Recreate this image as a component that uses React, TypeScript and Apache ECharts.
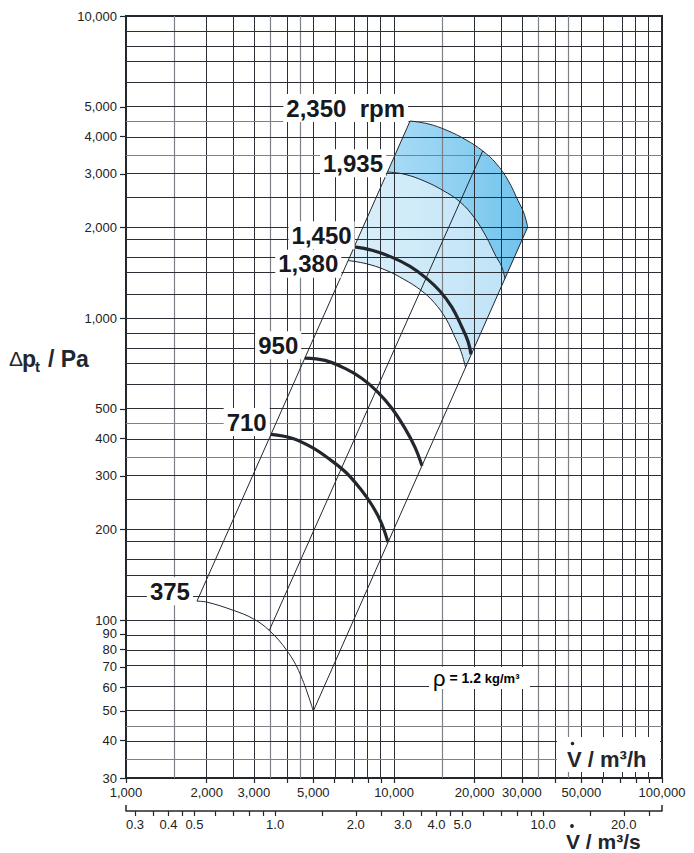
import React, { useEffect, useRef } from 'react';
import * as echarts from 'echarts';

const FONT = '"Liberation Sans", Arial, Helvetica, sans-serif';
const INK = '#22262d';
const GRID_DARK = '#2c2f36';
const GRID_LIGHT = '#7e8188';

// Axis extents: volume flow in m³/h, total pressure in Pa (both logarithmic)
const FLOW_MIN = 1000;
const FLOW_MAX = 100000;
const PRESS_MIN = 30;
const PRESS_MAX = 10000;

const flowLabels = [1000, 2000, 3000, 5000, 10000, 20000, 30000, 50000, 100000];
const flowTicks = [1000, 2000, 3000, 4000, 5000, 6000, 7000, 8000, 9000, 10000, 20000, 30000, 40000, 50000, 60000, 70000, 80000, 90000, 100000];
const flowGridDark = [2000, 2500, 3000, 4000, 5000, 6000, 7000, 8000, 9000, 10000, 20000, 25000, 30000, 40000, 50000, 60000, 70000, 80000, 90000];
const flowGridLight = [1500, 3500, 4500, 15000, 35000, 45000];

const pressLabels = [30, 40, 50, 60, 70, 80, 90, 100, 200, 300, 400, 500, 1000, 2000, 3000, 4000, 5000, 10000];
const pressGridDark = [40, 50, 60, 70, 80, 90, 100, 120, 140, 160, 180, 200, 250, 300, 400, 500, 600, 700, 800, 900, 1000, 1200, 1400, 1600, 1800, 2000, 2500, 3000, 4000, 5000, 6000, 7000, 8000, 9000];
const pressGridLight = [35, 45, 350, 450, 3500, 4500];

// Secondary flow scale in m³/s
const flowSecTicks = [0.3, 0.35, 0.4, 0.45, 0.5, 0.6, 0.7, 0.8, 0.9, 1, 1.5, 2, 2.5, 3, 3.5, 4, 4.5, 5, 6, 7, 8, 9, 10, 15, 20, 25];
const flowSecLabels = [0.3, 0.4, 0.5, 1, 2, 3, 4, 5, 10, 20];

// Fan characteristics (m³/h, Pa)
const rpm2350Flow = [11480, 13400, 15770, 18570, 21430, 24020, 26630, 29010, 30560, 31540];
const rpm2350Press = [4490, 4395, 4180, 3890, 3575, 3255, 2860, 2450, 2220, 2000];

const rpm1935Flow = [9460, 10990, 13050, 15230, 17630, 19890, 22040, 24020, 25190, 25950];
const rpm1935Press = [3045, 2990, 2835, 2645, 2425, 2155, 1865, 1600, 1485, 1350];

const rpm1450Flow = [7100, 8280, 9745, 11480, 13230, 14850, 16460, 17930, 18890, 19380];
const rpm1450Press = [1720, 1676, 1594, 1483, 1353, 1226, 1085, 932, 837, 758];

const rpm1380Flow = [6740, 7860, 9260, 10900, 12610, 14100, 15630, 16890, 17780, 18500];
const rpm1380Press = [1550, 1514, 1444, 1343, 1235, 1127, 994, 863, 776, 685];

const rpm950Flow = [4650, 5527, 6565, 7597, 8642, 9830, 10990, 11980, 12720];
const rpm950Press = [737, 724, 681, 631, 572, 502, 431, 373, 324];

const rpm710Flow = [3475, 4164, 4943, 5770, 6622, 7467, 8278, 8943, 9500];
const rpm710Press = [412, 400, 373, 340, 308, 273, 240, 211, 181];

const rpm375Flow = [1840, 2000, 2514, 2985, 3424, 3978, 4461, 5000];
const rpm375Press = [115.5, 114.7, 107.7, 101, 92.4, 79.4, 66.4, 50];

// System resistance lines (Δp ∝ V̇²)
const sysAFlow = [1840, 11480];
const sysAPress = [115.5, 4490];
const sysBFlow = [3424, 21430];
const sysBPress = [92.4, 3575];
const sysCFlow = [5000, 31540];
const sysCPress = [50, 2000];

const rpmLabelText = ['2,350  rpm', '1,935', '1,450', '1,380', '950', '710', '375'];

const lg = (v: number) => Math.log10(v);
const pts = (q: number[], p: number[]) => q.map((v, i) => [lg(v), lg(p[i])]);
const withCommas = (n: number) => String(n).replace(/\B(?=(\d{3})+(?!\d))/g, ',');
const fmtPow = (v: number) => withCommas(Math.round(Math.pow(10, v)));

function buildOption() {
  const curves = [
    { q: rpm2350Flow, p: rpm2350Press, bold: false },
    { q: rpm1935Flow, p: rpm1935Press, bold: false },
    { q: rpm1450Flow, p: rpm1450Press, bold: true },
    { q: rpm1380Flow, p: rpm1380Press, bold: false },
    { q: rpm950Flow, p: rpm950Press, bold: true },
    { q: rpm710Flow, p: rpm710Press, bold: true },
    { q: rpm375Flow, p: rpm375Press, bold: false },
  ];
  const systems = [
    { q: sysAFlow, p: sysAPress },
    { q: sysBFlow, p: sysBPress },
    { q: sysCFlow, p: sysCPress },
  ];
  // label offsets relative to each curve's starting point
  const labelOffsets = [[0.5, -13], [1, -8.7], [3, -11.6], [-4.3, 3.3], [-1.1, -12.7], [1.2, -12.3], [-1.5, -9.8]];

  const darkFill = new echarts.graphic.LinearGradient(0, 0, 1, 0, [
    { offset: 0, color: '#aadbf5' },
    { offset: 0.55, color: '#8ccff1' },
    { offset: 1, color: '#6fc2ec' },
  ]);
  const lightFill = new echarts.graphic.LinearGradient(0, 0, 1, 0, [
    { offset: 0, color: '#dbf0fa' },
    { offset: 1, color: '#c0e3f7' },
  ]);
  const bands = [
    { poly: [...pts(rpm2350Flow, rpm2350Press), ...pts(rpm1935Flow, rpm1935Press).reverse()], fill: darkFill },
    { poly: [...pts(rpm1935Flow, rpm1935Press), ...pts(rpm1380Flow, rpm1380Press).reverse()], fill: lightFill },
  ];

  const lineBase = {
    type: 'line',
    showSymbol: false,
    symbol: 'none',
    silent: true,
    animation: false,
    emphasis: { disabled: true },
  };

  const series: any[] = [
    {
      type: 'custom',
      coordinateSystem: 'cartesian2d',
      silent: true,
      z: 1,
      data: bands.map((b, i) => [b.poly[0][0], b.poly[0][1], i]),
      encode: { x: 0, y: 1 },
      renderItem: (params: any, api: any) => {
        const b = bands[params.dataIndex];
        return {
          type: 'polygon',
          shape: { points: b.poly.map((p) => api.coord(p)) },
          style: { fill: b.fill, stroke: 'none' },
        };
      },
    },
    {
      ...lineBase,
      data: [],
      z: 3,
      markLine: {
        silent: true,
        symbol: ['none', 'none'],
        label: { show: false },
        animation: false,
        lineStyle: { type: 'solid', color: GRID_DARK, width: 1 },
        data: [
          ...flowGridDark.map((v) => ({ xAxis: lg(v) })),
          ...flowGridLight.map((v) => ({ xAxis: lg(v), lineStyle: { type: 'solid', color: GRID_LIGHT, width: 1.2 } })),
          ...pressGridDark.map((v) => ({ yAxis: lg(v) })),
          ...pressGridLight.map((v) => ({ yAxis: lg(v), lineStyle: { type: 'solid', color: GRID_LIGHT, width: 1.2 } })),
        ],
      },
    },
    ...systems.map((s) => ({
      ...lineBase,
      z: 5,
      data: pts(s.q, s.p),
      lineStyle: { color: INK, width: 1 },
    })),
    ...curves.map((c) => ({
      ...lineBase,
      z: c.bold ? 6 : 5,
      smooth: 0.4,
      data: pts(c.q, c.p),
      lineStyle: { color: INK, width: c.bold ? 3.2 : 1 },
    })),
    {
      type: 'scatter',
      silent: true,
      z: 10,
      symbolSize: 1,
      itemStyle: { color: 'rgba(0,0,0,0)', opacity: 1 },
      data: curves.map((c, i) => ({
        name: rpmLabelText[i],
        value: [lg(c.q[0]), lg(c.p[0])],
        label: { offset: labelOffsets[i] },
      })),
      label: {
        show: true,
        position: 'left',
        distance: 2,
        formatter: '{b}',
        fontFamily: FONT,
        fontSize: 24,
        fontWeight: 'bold',
        color: '#15181d',
        opacity: 1,
        backgroundColor: '#ffffff',
        padding: [2, 3],
      },
    },
  ];

  const gx0 = 126;
  const gx1 = 662;
  const gy1 = 778;

  return {
    animation: false,
    backgroundColor: '#ffffff',
    textStyle: { fontFamily: FONT },
    grid: {
      left: gx0,
      top: 16,
      width: gx1 - gx0,
      height: gy1 - 16,
      show: true,
      borderColor: INK,
      borderWidth: 2,
      backgroundColor: 'transparent',
    },
    xAxis: [
      {
        type: 'value',
        min: lg(FLOW_MIN),
        max: lg(FLOW_MAX),
        position: 'bottom',
        axisLine: { show: true, lineStyle: { color: INK, width: 2 } },
        axisTick: { show: true, customValues: flowTicks.map(lg), length: 5, lineStyle: { color: INK, width: 1.2 } },
        axisLabel: {
          customValues: flowLabels.map(lg),
          formatter: (v: number) => fmtPow(v),
          fontSize: 13,
          color: '#222',
          fontFamily: FONT,
          margin: 8,
        },
        splitLine: { show: false },
      },
      {
        type: 'value',
        min: lg(FLOW_MIN),
        max: lg(FLOW_MAX),
        position: 'bottom',
        offset: 33,
        axisLine: { show: true, lineStyle: { color: INK, width: 1.5 } },
        axisTick: { show: true, customValues: flowSecTicks.map((v) => lg(v * 3600)), length: 5, lineStyle: { color: INK, width: 1.2 } },
        axisLabel: {
          customValues: flowSecLabels.map((v) => lg(v * 3600)),
          formatter: (v: number) => (Math.pow(10, v) / 3600).toFixed(1),
          fontSize: 13,
          lineHeight: 13,
          color: '#222',
          fontFamily: FONT,
          margin: 7,
        },
        splitLine: { show: false },
      },
    ],
    yAxis: {
      type: 'value',
      min: lg(PRESS_MIN),
      max: lg(PRESS_MAX),
      axisLine: { show: true, lineStyle: { color: INK, width: 2 } },
      axisTick: { show: true, customValues: pressLabels.map(lg), length: 6, lineStyle: { color: INK, width: 1.2 } },
      axisLabel: {
        customValues: pressLabels.map(lg),
        formatter: (v: number) => fmtPow(v),
        fontSize: 13,
        color: '#222',
        fontFamily: FONT,
        margin: 9,
      },
      splitLine: { show: false },
    },
    series,
    graphic: [
      // end brackets of the m³/s scale
      { type: 'line', z: 50, shape: { x1: gx0, y1: 805, x2: gx0, y2: 811 }, style: { stroke: INK, lineWidth: 1.5 } },
      { type: 'line', z: 50, shape: { x1: gx1, y1: 805, x2: gx1, y2: 811 }, style: { stroke: INK, lineWidth: 1.5 } },
      // pressure axis title
      { type: 'text', z: 50, x: 9, y: 358.5, style: { text: 'Δ', font: `normal 21px ${FONT}`, fill: INK, verticalAlign: 'middle', textVerticalAlign: 'middle' } },
      { type: 'text', z: 50, x: 22, y: 358.5, style: { text: 'p', font: `bold 23px ${FONT}`, fill: INK, verticalAlign: 'middle', textVerticalAlign: 'middle' } },
      { type: 'text', z: 50, x: 35, y: 366, style: { text: 't', font: `bold 15px ${FONT}`, fill: INK, verticalAlign: 'middle', textVerticalAlign: 'middle' } },
      { type: 'text', z: 50, x: 48, y: 358.5, style: { text: '/ Pa', font: `bold 23px ${FONT}`, fill: INK, verticalAlign: 'middle', textVerticalAlign: 'middle' } },
      // flow title inside plot (m³/h)
      { type: 'rect', z: 50, shape: { x: 557, y: 737, width: 103, height: 35 }, style: { fill: '#ffffff' } },
      { type: 'text', z: 51, x: 567, y: 759, style: { text: 'V / m³/h', font: `bold 22px ${FONT}`, fill: INK, verticalAlign: 'middle', textVerticalAlign: 'middle' } },
      { type: 'circle', z: 51, shape: { cx: 572.5, cy: 743.5, r: 1.8 }, style: { fill: INK } },
      // flow title below (m³/s)
      { type: 'text', z: 51, x: 566, y: 841, style: { text: 'V / m³/s', font: `bold 21px ${FONT}`, lineHeight: 18, fill: INK, verticalAlign: 'middle', textVerticalAlign: 'middle' } },
      { type: 'circle', z: 51, shape: { cx: 572, cy: 826, r: 1.9 }, style: { fill: INK } },
      // air density note
      { type: 'rect', z: 50, shape: { x: 429, y: 667, width: 101, height: 22 }, style: { fill: '#ffffff' } },
      {
        type: 'text',
        z: 51,
        x: 433,
        y: 678,
        style: {
          text: '{r|ρ}{e| = 1.2 }{k|kg/m³}',
          verticalAlign: 'middle',
          textVerticalAlign: 'middle',
          rich: {
            r: { fontFamily: FONT, fontSize: 22, color: INK },
            e: { fontFamily: FONT, fontSize: 14, fontWeight: 'bold', color: INK },
            k: { fontFamily: FONT, fontSize: 13, fontWeight: 'bold', color: INK },
          },
        },
      },
    ],
  };
}

export default function App() {
  const ref = useRef<HTMLDivElement>(null);
  useEffect(() => {
    if (!ref.current) return;
    const chart = echarts.init(ref.current, null, { renderer: 'svg' });
    chart.setOption(buildOption() as any);
    return () => chart.dispose();
  }, []);
  return (
    <div
      ref={ref}
      style={{ position: 'absolute', left: 0, top: 0, width: 694, height: 853, background: '#fff' }}
    />
  );
}
